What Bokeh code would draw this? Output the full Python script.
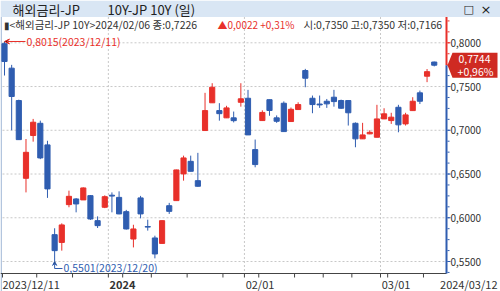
import datetime as dt
import numpy as np
from bokeh.plotting import figure
from bokeh.models import Range1d, ColumnDataSource, Arrow, VeeHead
from bokeh.core.properties import value
from bokeh.embed import file_html
from bokeh.resources import INLINE

FONT = "Noto Sans CJK KR"

# ---------------- data ----------------
dates = [
    "2023/12/11", "2023/12/12", "2023/12/13", "2023/12/14", "2023/12/15",
    "2023/12/18", "2023/12/19", "2023/12/20", "2023/12/21", "2023/12/22",
    "2023/12/25", "2023/12/26", "2023/12/27", "2023/12/28", "2023/12/29",
    "2024/01/04", "2024/01/05", "2024/01/09", "2024/01/10", "2024/01/11",
    "2024/01/12", "2024/01/15", "2024/01/16", "2024/01/17", "2024/01/18",
    "2024/01/19", "2024/01/22", "2024/01/23", "2024/01/24", "2024/01/25",
    "2024/01/26", "2024/01/29", "2024/01/30", "2024/01/31", "2024/02/01",
    "2024/02/02", "2024/02/05", "2024/02/06", "2024/02/07", "2024/02/08",
    "2024/02/09", "2024/02/13", "2024/02/14", "2024/02/15", "2024/02/16",
    "2024/02/19", "2024/02/20", "2024/02/21", "2024/02/22", "2024/02/26",
    "2024/02/27", "2024/02/28", "2024/02/29", "2024/03/01", "2024/03/04",
    "2024/03/05", "2024/03/06", "2024/03/07", "2024/03/08", "2024/03/11",
    "2024/03/12",
]
opens = [
    0.7990, 0.7710, 0.7340, 0.6451, 0.6940, 0.7080, 0.6833, 0.5807, 0.5718, 0.6150,
    0.6215, 0.6204, 0.6253, 0.5967, 0.6120, 0.6258, 0.6233, 0.6070, 0.5757, 0.6227,
    0.5900, 0.5769, 0.5707, 0.6138, 0.6196, 0.6501, 0.6645, 0.6424, 0.6997, 0.7314,
    0.7225, 0.7142, 0.7142, 0.7320, 0.7366, 0.6779, 0.7111, 0.7350, 0.7142, 0.7309,
    0.7100, 0.7237, 0.7683, 0.7366, 0.7300, 0.7332, 0.7378, 0.7340, 0.7340, 0.7080,
    0.6902, 0.6959, 0.6920, 0.7130, 0.7111, 0.7263, 0.7073, 0.7225, 0.7428, 0.7618,
    0.7780,
]
highs = [
    0.8015, 0.7748, 0.7350, 0.6900, 0.7130, 0.7110, 0.6880, 0.5880, 0.5936, 0.6310,
    0.6225, 0.6347, 0.6260, 0.6016, 0.6256, 0.6290, 0.6302, 0.6090, 0.5920, 0.6250,
    0.5978, 0.5795, 0.5970, 0.6170, 0.6550, 0.6710, 0.6710, 0.6742, 0.7428, 0.7538,
    0.7310, 0.7280, 0.7214, 0.7538, 0.7462, 0.6894, 0.7228, 0.7350, 0.7170, 0.7330,
    0.7260, 0.7320, 0.7702, 0.7397, 0.7397, 0.7358, 0.7462, 0.7350, 0.7345, 0.7090,
    0.7085, 0.7000, 0.7291, 0.7252, 0.7200, 0.7291, 0.7200, 0.7378, 0.7454, 0.7700,
    0.7785,
]
lows = [
    0.7626, 0.7000, 0.6890, 0.6290, 0.6870, 0.6670, 0.6227, 0.5501, 0.5624, 0.6120,
    0.6062, 0.6204, 0.5975, 0.5883, 0.6110, 0.6062, 0.6040, 0.5865, 0.5661, 0.5993,
    0.5853, 0.5536, 0.5707, 0.6044, 0.6196, 0.6424, 0.6530, 0.6355, 0.6994, 0.7314,
    0.7110, 0.7140, 0.7090, 0.7270, 0.6947, 0.6577, 0.7110, 0.7166, 0.7085, 0.6985,
    0.7100, 0.7237, 0.7492, 0.7195, 0.7256, 0.7256, 0.7270, 0.7245, 0.7054, 0.6806,
    0.6900, 0.6955, 0.6920, 0.7128, 0.7073, 0.6977, 0.7054, 0.7225, 0.7300, 0.7550,
    0.7730,
]
closes = [
    0.7786, 0.7386, 0.6893, 0.6748, 0.7092, 0.6684, 0.6330, 0.5624, 0.5918, 0.6245,
    0.6158, 0.6341, 0.5986, 0.5910, 0.6241, 0.6248, 0.6044, 0.5872, 0.5872, 0.6044,
    0.5893, 0.5586, 0.5967, 0.6073, 0.6547, 0.6684, 0.6531, 0.6360, 0.7225, 0.7492,
    0.7190, 0.7256, 0.7110, 0.7360, 0.6947, 0.6608, 0.7204, 0.7226, 0.7103, 0.6985,
    0.7240, 0.7294, 0.7595, 0.7294, 0.7290, 0.7302, 0.7328, 0.7252, 0.7200, 0.6902,
    0.6947, 0.6977, 0.7130, 0.7188, 0.7150, 0.7062, 0.7176, 0.7332, 0.7332, 0.7670,
    0.7744,
]
y_ticks = [0.55, 0.60, 0.65, 0.70, 0.75, 0.80]
title_left = "해외금리-JP"
title_right = "10Y-JP 10Y (일)"
series_name = "해외금리-JP 10Y"
info_index = 37

# ---------------- styling / geometry ----------------
RED = "#e8302a"
BLUE = "#2f5db0"
BAR = "#d9e6f4"
TXT = "#333333"
GRID = "#c8c8c8"

X0, DX = 4.0, 7.162      # screen x of first candle, px per candle
Y80, DY = 42.3, 874.8    # screen y of 0.80, px per unit


def X(sx):
    return (sx - X0) / DX


def Y(sy):
    return 0.80 - (sy - Y80) / DY


def fmt(v, d=4):
    return f"{v:.{d}f}".replace(".", ",")


W, H = 500, 291
TOP, FR_L, AX_X, FR_B = 16.5, 2, 446, 273

n = len(dates)
idx = list(range(n))
dts = [dt.date(int(s[:4]), int(s[5:7]), int(s[8:10])) for s in dates]
colors = [RED if c >= o else BLUE for o, c in zip(opens, closes)]

p = figure(width=W, height=H,
           x_range=Range1d(X(0), X(W)), y_range=Range1d(Y(H), Y(0)),
           output_backend="svg", toolbar_location=None,
           x_axis_location=None, y_axis_location=None, min_border=0,
           background_fill_color="white", border_fill_color="white",
           outline_line_color=None)
p.grid.visible = False


def txt(xs, ys, texts, size="10.5px", color=TXT, align="left", style="normal", font=FONT):
    p.text(x=xs, y=ys, text=texts, text_font=value(font), text_font_size=value(size),
           text_color=color, text_align=align, text_baseline="middle",
           text_font_style=style)


# window chrome: title bar + left edge
p.quad(left=[X(0)], right=[X(W)], top=[Y(0)], bottom=[Y(TOP)], fill_color=BAR, line_color=None)
p.quad(left=[X(0)], right=[X(1.5)], top=[Y(TOP)], bottom=[Y(H)], fill_color="#b3c5de",
       line_color=None)
txt([X(12), X(107)], [Y(8.5)] * 2, [title_left, title_right], size="13px", color="#222222")
txt([X(463)], [Y(8.5)], ["□"], size="11px", color="#222222", font="DejaVu Sans")
txt([X(480)], [Y(8.5)], ["×"], size="13px", color="#222222", font="DejaVu Sans")

# grids
month_idx = [i for i in range(1, n) if dts[i].month != dts[i - 1].month]
week_idx = [i for i in range(n) if i == 0
            or dts[i].isocalendar()[1] != dts[i - 1].isocalendar()[1]
            or dts[i].month != dts[i - 1].month]
p.segment(x0=[X(FR_L)] * len(y_ticks), y0=y_ticks, x1=[X(AX_X - 1)] * len(y_ticks), y1=y_ticks,
          line_color=GRID, line_width=1, line_dash="2 2")
mx = [i - 0.5 for i in month_idx]
p.segment(x0=mx, y0=[Y(TOP)] * len(mx), x1=mx, y1=[Y(FR_B)] * len(mx),
          line_color=GRID, line_width=1, line_dash="2 2")

# candles
src = ColumnDataSource(dict(
    x=idx, h=highs, l=lows,
    top=[max(o, c) for o, c in zip(opens, closes)],
    bot=[min(o, c) for o, c in zip(opens, closes)],
    color=colors))
p.segment("x", "h", "x", "l", line_color="color", line_width=1, source=src)
p.vbar(x="x", width=0.72, top="top", bottom="bot", fill_color="color",
       line_color="color", line_width=1, source=src)

# x axis (line, weekly ticks, date labels)
p.segment(x0=[X(0)], y0=[Y(FR_B)], x1=[X(AX_X)], y1=[Y(FR_B)], line_color="#444444", line_width=1)
wx = [i - 0.5 for i in week_idx if i > 0] + [X(FR_L)]
p.segment(x0=wx, y0=[Y(FR_B)] * len(wx), x1=wx, y1=[Y(FR_B + 4)] * len(wx),
          line_color="#444444", line_width=1)
LY = Y(283.5)
txt([X(FR_L)], [LY], [dates[0]], size="11px")
for i in month_idx:
    if dts[i].year != dts[i - 1].year:
        txt([i - 0.5 + X(5.2)], [LY], [str(dts[i].year)], size="11px", style="bold")
    else:
        txt([i - 0.5 + X(5.2)], [LY], [dts[i].strftime("%m/%d")], size="11px")
txt([X(497)], [LY], [dates[-1]], size="11px", align="right")

# right y axis: coloured line, ticks, labels
last = closes[-1]
p.segment(x0=[X(AX_X)] * 2, y0=[last, Y(FR_B)], x1=[X(AX_X)] * 2, y1=[Y(TOP), last],
          line_color=[RED, BLUE], line_width=2)
minor = [y_ticks[0] - 0.0125 + 0.0125 * k for k in range(24)]
minor = [m for m in minor if Y(FR_B) < m < Y(TOP + 2)]
p.segment(x0=[X(AX_X + 1)] * len(minor), y0=minor, x1=[X(AX_X + 3)] * len(minor), y1=minor,
          line_color=[RED if m > last else BLUE for m in minor], line_width=1)
p.segment(x0=[X(AX_X + 1)] * len(y_ticks), y0=y_ticks, x1=[X(AX_X + 4)] * len(y_ticks),
          y1=y_ticks, line_color=[RED if m > last else BLUE for m in y_ticks], line_width=1)
txt([X(450)] * len(y_ticks), y_ticks, [fmt(v) for v in y_ticks], size="10px")

# high / low markers
hi_i = int(np.argmax(highs))
lo_i = int(np.argmin(lows))
hi_v, lo_v = highs[hi_i], lows[lo_i]
p.add_layout(Arrow(end=VeeHead(size=5, line_color=RED, line_width=1),
                   x_start=X(25), y_start=hi_v, x_end=hi_i, y_end=hi_v,
                   line_color=RED, line_width=1))
txt([X(26)], [hi_v], [f"{fmt(hi_v)}({dates[hi_i]})"], size="10.5px", color=RED)
p.add_layout(Arrow(end=VeeHead(size=4, line_color=BLUE, line_width=1),
                   x_start=lo_i, y_start=Y(268), x_end=lo_i, y_end=lo_v,
                   line_color=BLUE, line_width=1))
p.segment(x0=[lo_i], y0=[Y(268)], x1=[X(62)], y1=[Y(268)], line_color=BLUE, line_width=1)
txt([X(63)], [Y(266.5)], [f"{fmt(lo_v)}({dates[lo_i]})"], size="10.5px", color=BLUE)

# info line
k = info_index
chg = closes[k] - closes[k - 1]
pct = chg / closes[k - 1] * 100
IY = Y(23.5)
txt([X(3)], [IY], ["▮"], size="10px")
txt([X(9)], [IY], [f"<{series_name}>{dates[k]} 종:{fmt(closes[k])}"], size="10.5px")
txt([X(217)], [IY], [f"▲{fmt(chg)} +{fmt(pct, 2)}%"], size="10px", color=RED)
txt([X(303)], [IY], [f"시:{fmt(opens[k])} 고:{fmt(highs[k])} 저:{fmt(lows[k])}"], size="10.5px")

# last price box on the axis
hh = 12.5 / DY
p.patch(x=[X(447), X(452), X(497), X(497), X(452)],
        y=[last, last + hh, last + hh, last - hh, last - hh],
        fill_color="#cf2a22", line_color=None)
lpct = (last / closes[-2] - 1) * 100
txt([X(474), X(475)], [last + 6.2 / DY, last - 6.2 / DY], [fmt(last), f"+{fmt(lpct, 2)}%"],
    size="10.5px", color="white", align="center")

open("out.html", "w").write(file_html(p, INLINE))
